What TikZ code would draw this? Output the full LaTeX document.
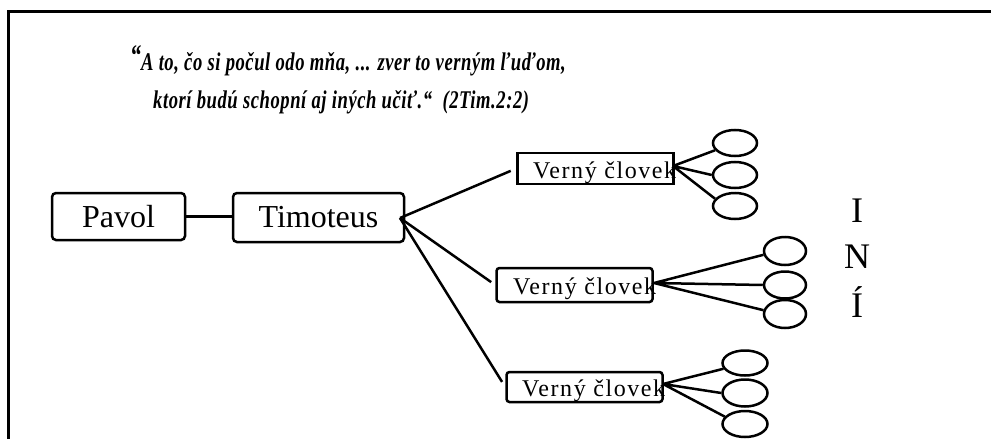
\documentclass[tikz,border=0pt]{standalone}
\usepackage{fontspec}
\setmainfont{Liberation Serif}
\usetikzlibrary{shapes.geometric}
\begin{document}
\begin{tikzpicture}[x=1pt,y=-1pt,
  mainbox/.style={draw,line width=2.5pt,inner sep=0pt,rounded corners=4pt,font=\fontsize{32}{36}\selectfont},
  vbox/.style={draw,line width=2.5pt,inner sep=0pt,minimum width=156pt},
  vtext/.style={anchor=base west,inner sep=0pt,font=\fontsize{24}{26}\selectfont\addfontfeature{LetterSpace=6.5}},
  ell/.style={draw,ellipse,line width=2.5pt,inner sep=0pt,minimum width=44pt,minimum height=26pt},
  conn/.style={line width=2.5pt},
  quote/.style={anchor=base west,inner sep=0pt,font=\fontsize{25.5}{29}\selectfont\bfseries\itshape\addfontfeature{LetterSpace=3}},
  big/.style={anchor=base,inner sep=0pt,font=\fontsize{36}{40}\selectfont}]
\useasboundingbox (0,0) rectangle (991,439);
\clip (0,0) rectangle (991,439);
\draw[line width=3pt] (8,11) rectangle (1010,470);

% quote
\node[quote] (q1) at (130,70) {\scalebox{0.73}[1]{\raisebox{5pt}{\fontsize{30}{30}\selectfont“}A to, čo si počul odo mňa, ... zver to verným ľuďom,}};
\node[quote] (q2) at (153,108) {\scalebox{0.73}[1]{ktorí budú schopní aj iných učiť.“ \ (2Tim.2:2)}};

% main boxes
\node[mainbox,minimum width=133pt,minimum height=47pt] (pavol) at (118.5,216.5) {Pavol};
\node[mainbox,minimum width=171pt,minimum height=49pt] (tim) at (318.5,217.5) {Timoteus};
\draw[conn] (pavol.east) -- (pavol.east -| tim.west);
\coordinate (hub) at (400,218);

% verny boxes
\node[vbox,minimum height=31pt] (v1) at (595.5,168.5) {};
\node[vbox,minimum height=34pt,rounded corners=3pt] (v2) at (574.5,285) {};
\node[vbox,minimum height=30pt,rounded corners=3pt] (v3) at (584.5,387) {};
\node[vtext] (t1) at (533,178) {Verný človek};
\node[vtext] (t2) at (513,294) {Verný človek};
\node[vtext] (t3) at (522,396) {Verný človek};

\draw[conn,shorten >=6pt] (hub) -- (v1.west);
\draw[conn,shorten >=5pt] (hub) -- (v2.west);
\draw[conn,shorten >=6pt] (hub) -- (v3.west);

% ellipses
\node[ell] (e11) at (735,143) {};
\node[ell] (e12) at (735,175) {};
\node[ell] (e13) at (735,206) {};
\node[ell,minimum width=42pt,minimum height=28pt] (e21) at (785,251) {};
\node[ell,minimum width=42pt,minimum height=27pt] (e22) at (785,285) {};
\node[ell,minimum width=42pt,minimum height=28pt] (e23) at (785,314) {};
\node[ell,minimum width=45pt,minimum height=25pt] (e31) at (745,363) {};
\node[ell,minimum width=45pt,minimum height=27pt] (e32) at (745,393) {};
\node[ell,minimum width=45pt,minimum height=26pt] (e33) at (745,424) {};

\coordinate (r1) at (673,166);
\coordinate (r2) at (654,283);
\coordinate (r3) at (663,384);
\draw[conn] (r1) -- (e11.200) (r1) -- (e12.west) (r1) -- (e13.160);
\draw[conn] (r2) -- (e21.190) (r2) -- (e22.west) (r2) -- (e23.170);
\draw[conn] (r3) -- (e31.195) (r3) -- (e32.west) (r3) -- (e33.160);

% INI
\node[big] (i1) at (857,222) {I};
\node[big] (i2) at (857,268) {N};
\node[big] (i3) at (857,317) {Í};
\end{tikzpicture}
\end{document}
